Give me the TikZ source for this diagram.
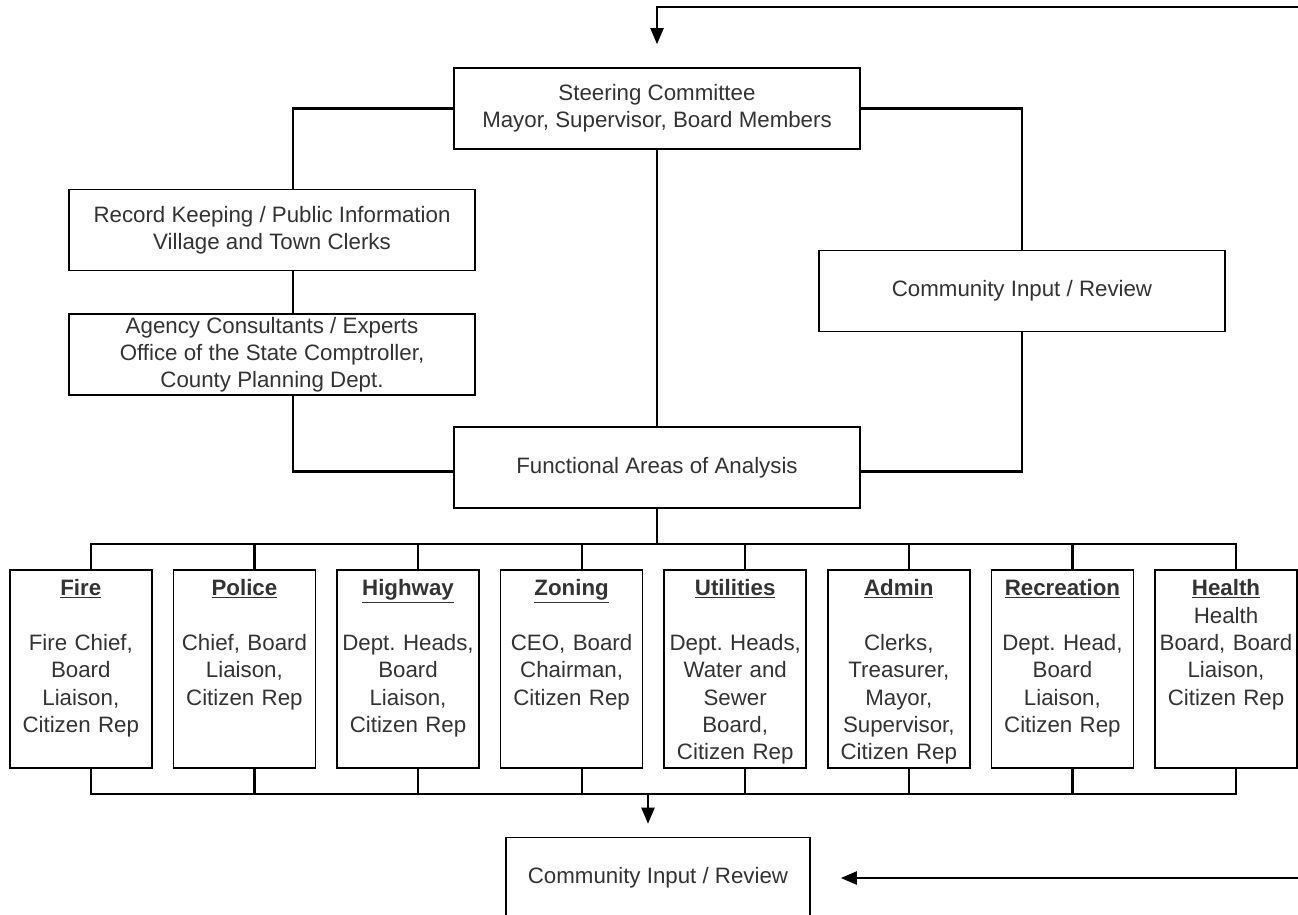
\documentclass[tikz,border=0pt]{standalone}
\usepackage{fontspec}
\setmainfont{Liberation Sans}
\usetikzlibrary{calc,positioning,arrows.meta}
\frenchspacing

\begin{document}
\begin{tikzpicture}[x=1pt,y=-1pt]
        \tikzset{>={Triangle[length=16pt,width=13pt]}}
        \tikzstyle{arr} = [line width=2.2pt]
        \tikzstyle{panel} = [shape=rectangle, draw, line width=1.6pt, align=center, text=black!80, minimum width=406pt, minimum height=81pt, inner sep=0pt, font=\fontsize{22.3}{27}\selectfont]
        \tikzstyle{dept} = [shape=rectangle, draw, line width=1.6pt, align=center, text=black!80, text width=138pt, text height=24pt, text depth=170pt, inner xsep=2pt, inner ysep=2pt, font=\fontsize{22.3}{27.3}\selectfont]

        \useasboundingbox (0,0) rectangle (1298,915);

        % committee, records and review
        \node [panel, name=steer] at (657,108.5) {Steering Committee\\Mayor, Supervisor, Board Members};
        \node [panel, name=record] at (272,230) {Record Keeping / Public Information\\Village and Town Clerks};
        \node [panel, anchor=north, name=agency, yshift=-42pt] at (record.south) {Agency Consultants / Experts\\Office of the State Comptroller,\\County Planning Dept.};
        \node [panel, name=community] at (1022,291) {Community Input / Review};
        \node [panel, name=functional] at (657,467.5) {Functional Areas of Analysis};

        % functional areas
        \node [dept, anchor=north west, name=fire] at (9,569) {\underline{\textbf{Fire}}\\[27.3pt]Fire Chief,\\Board\\Liaison,\\Citizen Rep};
        \node [dept, anchor=north west, name=police, xshift=20pt] at (fire.north east) {\underline{\textbf{Police}}\\[27.3pt]Chief, Board\\Liaison,\\Citizen Rep};
        \node [dept, anchor=north west, name=highway, xshift=20pt] at (police.north east) {\underline{\textbf{Highway}}\\[27.3pt]Dept. Heads,\\Board\\Liaison,\\Citizen Rep};
        \node [dept, anchor=north west, name=zoning, xshift=20pt] at (highway.north east) {\underline{\textbf{Zoning}}\\[27.3pt]CEO, Board\\Chairman,\\Citizen Rep};
        \node [dept, anchor=north west, name=utilities, xshift=20pt] at (zoning.north east) {\underline{\textbf{Utilities}}\\[27.3pt]Dept. Heads,\\Water and\\Sewer\\Board,\\Citizen Rep};
        \node [dept, anchor=north west, name=admin, xshift=20pt] at (utilities.north east) {\underline{\textbf{Admin}}\\[27.3pt]Clerks,\\Treasurer,\\Mayor,\\Supervisor,\\Citizen Rep};
        \node [dept, anchor=north west, name=recreation, xshift=20pt] at (admin.north east) {\underline{\textbf{Recreation}}\\[27.3pt]Dept. Head,\\Board\\Liaison,\\Citizen Rep};
        \node [dept, anchor=north west, name=health, xshift=20pt] at (recreation.north east) {\underline{\textbf{Health}}\\Health\\Board, Board\\Liaison,\\Citizen Rep};

        \node [panel, name=review, minimum width=304pt] at (658,878) {Community Input / Review};

        \coordinate (topright) at (1298,7);
        \coordinate (bottomright) at (1298,878);
        \coordinate (splittop) at ($(functional.south)+(0,35)$);
        \coordinate (splitbot) at ($(fire.south)+(0,25)$);

        % upper connectors
        \draw [arr,->] (topright) -| ([yshift=23pt]steer.north);
        \draw [arr] (steer.west) -| ([xshift=21pt]record.north);
        \draw [arr] ([xshift=21pt]record.south) -- ([xshift=21pt]agency.north);
        \draw [arr] ([xshift=21pt]agency.south) |- ([yshift=-4pt]functional.west);
        \draw [arr] (steer.south) -- (functional.north);
        \draw [arr] (steer.east) -| (community.north);
        \draw [arr] (community.south) |- ([yshift=-4pt]functional.east);

        % split to the functional areas
        \draw [arr] (functional.south) -- (splittop);
        \draw [arr] ([xshift=10pt]fire.north) |- ([xshift=10pt]health.north |- splittop) -- ([xshift=10pt]health.north);
        \draw [arr] ([xshift=10pt]police.north) -- ([xshift=10pt]police.north |- splittop);
        \draw [arr] ([xshift=10pt]highway.north) -- ([xshift=10pt]highway.north |- splittop);
        \draw [arr] ([xshift=10pt]zoning.north) -- ([xshift=10pt]zoning.north |- splittop);
        \draw [arr] ([xshift=10pt]utilities.north) -- ([xshift=10pt]utilities.north |- splittop);
        \draw [arr] ([xshift=10pt]admin.north) -- ([xshift=10pt]admin.north |- splittop);
        \draw [arr] ([xshift=10pt]recreation.north) -- ([xshift=10pt]recreation.north |- splittop);

        % join back to the review
        \draw [arr] ([xshift=10pt]fire.south) |- ([xshift=10pt]health.south |- splitbot) -- ([xshift=10pt]health.south);
        \draw [arr] ([xshift=10pt]police.south) -- ([xshift=10pt]police.south |- splitbot);
        \draw [arr] ([xshift=10pt]highway.south) -- ([xshift=10pt]highway.south |- splitbot);
        \draw [arr] ([xshift=10pt]zoning.south) -- ([xshift=10pt]zoning.south |- splitbot);
        \draw [arr] ([xshift=10pt]utilities.south) -- ([xshift=10pt]utilities.south |- splitbot);
        \draw [arr] ([xshift=10pt]admin.south) -- ([xshift=10pt]admin.south |- splitbot);
        \draw [arr] ([xshift=10pt]recreation.south) -- ([xshift=10pt]recreation.south |- splitbot);
        \draw [arr,->] ([xshift=-10pt]review.north |- splitbot) -- ([xshift=-10pt,yshift=13pt]review.north);
        \draw [arr,->] (bottomright) -- ([xshift=30pt]review.east);

\end{tikzpicture}
\end{document}
